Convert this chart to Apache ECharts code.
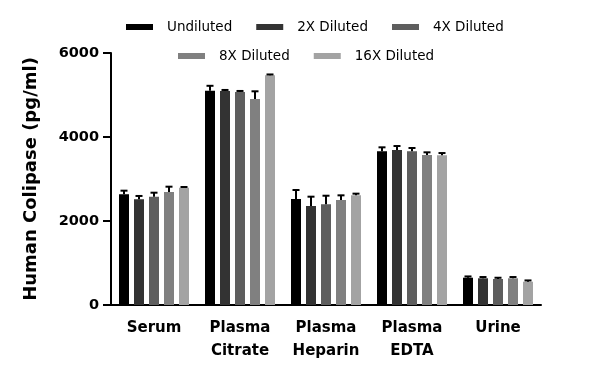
<!DOCTYPE html>
<html><head><meta charset="utf-8">
<script src="https://cdn.jsdelivr.net/npm/echarts@6/dist/echarts.min.js"></script>
<style>html,body{margin:0;padding:0;background:#fff}#c{width:600px;height:388px}</style>
</head><body><div id="c"></div>
<script>
var categories = ['Serum', 'Plasma\nCitrate', 'Plasma\nHeparin', 'Plasma\nEDTA', 'Urine'];
var seriesNames = ['Undiluted', '2X Diluted', '4X Diluted', '8X Diluted', '16X Diluted'];
var undiluted = [2636, 5100, 2524, 3659, 650];
var dil2x = [2516, 5095, 2357, 3690, 636];
var dil4x = [2579, 5071, 2397, 3659, 619];
var dil8x = [2690, 4905, 2500, 3571, 636];
var dil16x = [2790, 5469, 2611, 3563, 555];
var errUndiluted = [86, 119, 214, 95, 30];
var err2x = [80, 25, 222, 95, 30];
var err4x = [95, 25, 205, 79, 30];
var err8x = [127, 183, 111, 64, 30];
var err16x = [20, 20, 40, 55, 30];
var yTicks = [0, 2000, 4000, 6000];

var values = [undiluted, dil2x, dil4x, dil8x, dil16x];
var errors = [errUndiluted, err2x, err4x, err8x, err16x];
var colors = ['#000000', '#333333', '#5e5e5e', '#808080', '#a3a3a3'];
var FONT = 'DejaVu Sans';
var BW = 10, PITCH = 15;

var series = [];
values.forEach(function (vals, i) {
  series.push({
    name: seriesNames[i], type: 'bar', data: vals, barWidth: BW, barGap: '50%',
    itemStyle: { color: colors[i] }, animation: false, silent: true
  });
});
var errData = [];
values.forEach(function (vals, i) {
  vals.forEach(function (v, c) { errData.push([c, v, errors[i][c], i]); });
});
series.push({
  type: 'custom', data: errData, animation: false, silent: true, z: 5,
  renderItem: function (params, api) {
    var c = api.value(0), v = api.value(1), e = api.value(2), i = api.value(3);
    var base = api.coord([c, v]);
    var top = api.coord([c, v + e]);
    var x = base[0] + (i - 2) * PITCH;
    return {
      type: 'group', children: [
        { type: 'line', shape: { x1: x, y1: base[1], x2: x, y2: top[1] }, style: { stroke: '#000', lineWidth: 2 } },
        { type: 'line', shape: { x1: x - 3.5, y1: top[1], x2: x + 3.5, y2: top[1] }, style: { stroke: '#000', lineWidth: 2 } }
      ]
    };
  }
});

var legendText = { fontFamily: FONT, fontSize: 13.5, color: '#000', padding: [0, 0, 0, 9] };
var chart = echarts.init(document.getElementById('c'));
chart.setOption({
  backgroundColor: '#fff',
  animation: false,
  legend: [
    { data: seriesNames.slice(0, 3), left: 126, top: 20, padding: 0, itemWidth: 27, itemHeight: 6, itemGap: 24, icon: 'rect', textStyle: legendText, selectedMode: false },
    { data: seriesNames.slice(3), left: 178, top: 49, padding: 0, itemWidth: 27, itemHeight: 6, itemGap: 24, icon: 'rect', textStyle: legendText, selectedMode: false }
  ],
  grid: { left: 111, right: 59, top: 53, bottom: 83 },
  xAxis: {
    type: 'category', data: categories,
    axisLine: { lineStyle: { color: '#000', width: 2 } },
    axisTick: { alignWithLabel: true, length: 6, lineStyle: { color: '#000', width: 2 } },
    axisLabel: { interval: 0, fontFamily: FONT, fontWeight: 'bold', fontSize: 15, color: '#000', lineHeight: 23, margin: 12 }
  },
  yAxis: {
    type: 'value', min: 0, max: 6000, interval: 2000,
    name: 'Human Colipase (pg/ml)', nameLocation: 'middle', nameGap: 71,
    nameTextStyle: { fontFamily: FONT, fontWeight: 'bold', fontSize: 18, color: '#000' },
    axisLine: { show: true, lineStyle: { color: '#000', width: 2 } },
    axisTick: { show: true, length: 8, lineStyle: { color: '#000', width: 2 } },
    axisLabel: { fontFamily: FONT, fontWeight: 'bold', fontSize: 14.5, color: '#000', margin: 12,
      formatter: function (v) { return yTicks.indexOf(v) >= 0 ? String(v) : ''; } },
    splitLine: { show: false }
  },
  series: series
});
</script></body></html>
